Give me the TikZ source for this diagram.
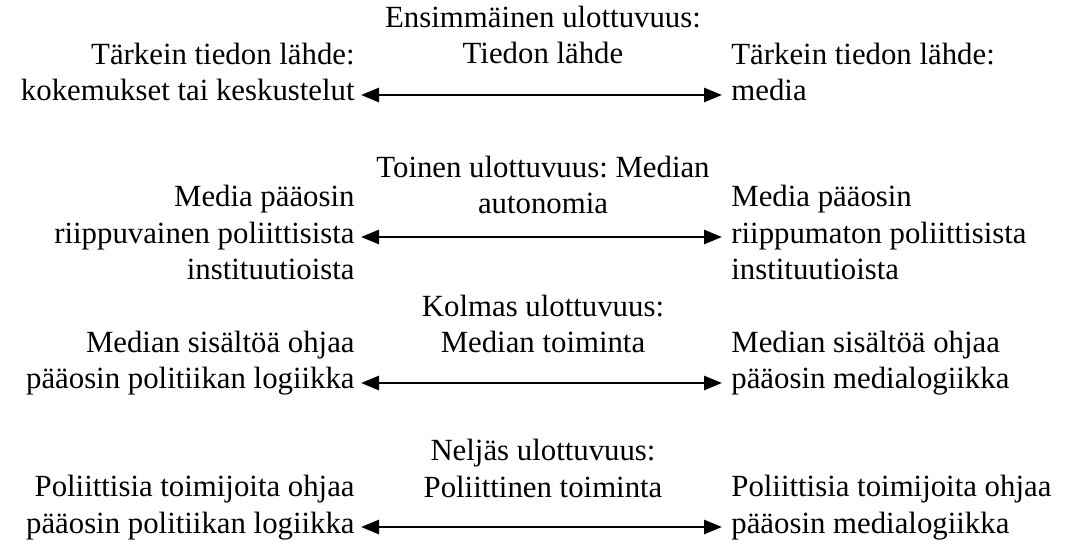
\documentclass[tikz,border=0pt]{standalone}
\usepackage{fontspec}
\setmainfont{Liberation Serif}
\usetikzlibrary{arrows.meta}
\frenchspacing
\begin{document}
\begin{tikzpicture}[
    x=0.5pt, y=-0.5pt,
    TX/.style={inner sep=0pt,font=\fontsize{15.4}{18.4}\selectfont},
    LT/.style={TX,anchor=base east,align=right},
    RT/.style={TX,anchor=base west,align=left},
    CT/.style={TX,anchor=base,align=center},
    AR/.style={line width=1.35pt,{Triangle[length=9pt,width=7pt]}-{Triangle[length=9pt,width=7pt]}}
    ]
    \useasboundingbox (0,0) rectangle (1086,549);
    % 1: tiedon lahde
    \node [CT] (C1) at (543,64) {Ensimmäinen ulottuvuus:\\Tiedon lähde};
    \node [LT] (L1) at (355,101) {Tärkein tiedon lähde:\\kokemukset tai keskustelut};
    \node [RT] (R1) at (731,101) {Tärkein tiedon lähde:\\media};
    \draw [AR] ([shift={(6,-6)}]L1.base east) -- ([shift={(-9,-6)}]R1.base west);
    % 2: median autonomia
    \node [CT] (C2) at (543,214) {Toinen ulottuvuus: Median\\autonomia};
    \node [LT] (L2) at (355,280) {Media pääosin\\riippuvainen poliittisista\\instituutioista};
    \node [RT] (R2) at (731,280) {Media pääosin\\riippumaton poliittisista\\instituutioista};
    \draw [AR] ([shift={(6,-43)}]L2.base east) -- ([shift={(-9,-43)}]R2.base west);
    % 3: median toiminta
    \node [CT] (C3) at (543,353) {Kolmas ulottuvuus:\\Median toiminta};
    \node [LT] (L3) at (355,389) {Median sisältöä ohjaa\\pääosin politiikan logiikka};
    \node [RT] (R3) at (731,389) {Median sisältöä ohjaa\\pääosin medialogiikka};
    \draw [AR] ([shift={(6,-6)}]L3.base east) -- ([shift={(-9,-6)}]R3.base west);
    % 4: poliittinen toiminta
    \node [CT] (C4) at (543,497) {Neljäs ulottuvuus:\\Poliittinen toiminta};
    \node [LT] (L4) at (355,533) {Poliittisia toimijoita ohjaa\\pääosin politiikan logiikka};
    \node [RT] (R4) at (731,533) {Poliittisia toimijoita ohjaa\\pääosin medialogiikka};
    \draw [AR] ([shift={(6,-6)}]L4.base east) -- ([shift={(-9,-6)}]R4.base west);
\end{tikzpicture}
\end{document}
